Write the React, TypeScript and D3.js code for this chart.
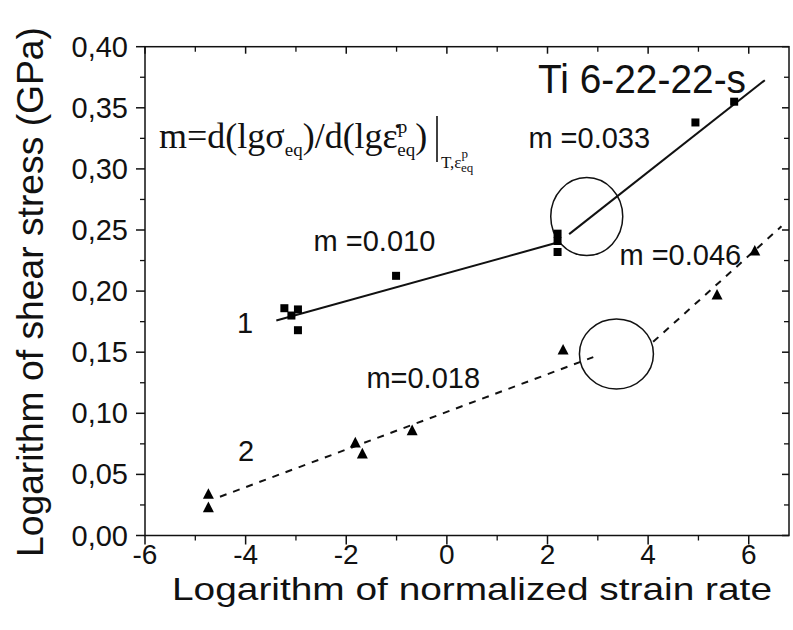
import React from "react";
import * as d3 from "d3";

// ---- data ----
const series1X = [-3.23, -2.96, -3.09, -2.96, -1.01, 2.2, 2.2, 2.2, 4.94, 5.71];
const series1Y = [0.186, 0.185, 0.18, 0.168, 0.2125, 0.247, 0.241, 0.232, 0.338, 0.355];
const series2X = [-4.74, -4.74, -1.82, -1.68, -0.69, 2.31, 5.37, 6.12];
const series2Y = [0.034, 0.023, 0.076, 0.067, 0.086, 0.152, 0.197, 0.233];

const fit1aX = [-3.39, 2.18];
const fit1aY = [0.176, 0.2395];
const fit1bX = [2.43, 6.32];
const fit1bY = [0.2466, 0.3726];
const fit2aX = [-4.51, 2.91];
const fit2aY = [0.0317, 0.146];
const fit2bX = [4.1, 6.65];
const fit2bY = [0.1585, 0.253];

const circleX = [2.78, 3.37];
const circleY = [0.261, 0.1485];

const xTicks = [-6, -4, -2, 0, 2, 4, 6];
const xMinor = [-5, -3, -1, 1, 3, 5];
const yTicks = [0, 0.05, 0.1, 0.15, 0.2, 0.25, 0.3, 0.35, 0.4];
const yTickLabels = ["0,00", "0,05", "0,10", "0,15", "0,20", "0,25", "0,30", "0,35", "0,40"];
const yMinor = [0.025, 0.075, 0.125, 0.175, 0.225, 0.275, 0.325, 0.375];

const slopeLabels = ["m =0.010", "m =0.033", "m=0.018", "m =0.046"];
const slopeLabelX = [-2.65, 1.62, -1.6, 3.43];
const slopeLabelY = [0.2325, 0.3175, 0.1205, 0.2215];

const W = 793;
const H = 630;

export default function App() {
  const x = d3.scaleLinear().domain([-6, 6.8]).range([145, 789]);
  const y = d3.scaleLinear().domain([0, 0.4]).range([535.5, 46.7]);
  const line = d3
    .line<[number, number]>()
    .x((d) => x(d[0]))
    .y((d) => y(d[1]));
  const seg = (xs: number[], ys: number[]) =>
    line(xs.map((v, i) => [v, ys[i]] as [number, number])) || "";

  const x0 = x.range()[0];
  const x1 = x.range()[1];
  const yb = y.range()[0];
  const yt = y.range()[1];
  const font = "'Liberation Sans', Arial, sans-serif";
  const serif = "'Liberation Serif', 'Times New Roman', serif";

  const tri = (cx: number, cy: number, s: number) => {
    const h = s * 0.87;
    return `M${cx},${cy - h / 2 - 1}L${cx + s / 2},${cy + h / 2}L${cx - s / 2},${cy + h / 2}Z`;
  };

  return (
    <svg
      width={W}
      height={H}
      style={{ position: "absolute", left: 0, top: 0, background: "#fff" }}
    >
      <rect x={0} y={0} width={W} height={H} fill="#fff" />
      {/* frame */}
      <rect
        x={x0}
        y={yt}
        width={x1 - x0}
        height={yb - yt}
        fill="none"
        stroke="#111"
        strokeWidth={1.5}
      />
      {/* bottom ticks (outward) and top ticks (inward) */}
      {xTicks.map((t) => (
        <g key={"xt" + t}>
          <line x1={x(t)} x2={x(t)} y1={yb} y2={yb + 9} stroke="#111" strokeWidth={1.5} />
          <line x1={x(t)} x2={x(t)} y1={yt} y2={yt + 7} stroke="#111" strokeWidth={1.5} />
          <text
            x={x(t)}
            y={564}
            textAnchor="middle"
            fontFamily={font}
            fontSize={28}
            fill="#111"
          >
            {t < 0 ? "-" + Math.abs(t) : String(t)}
          </text>
        </g>
      ))}
      {xMinor.map((t) => (
        <g key={"xm" + t}>
          <line x1={x(t)} x2={x(t)} y1={yb} y2={yb + 5} stroke="#111" strokeWidth={1.3} />
          <line x1={x(t)} x2={x(t)} y1={yt} y2={yt + 5} stroke="#111" strokeWidth={1.3} />
        </g>
      ))}
      {/* left ticks (outward), right ticks (inward) */}
      {yTicks.map((t, i) => (
        <g key={"yt" + t}>
          <line x1={x0 - 9} x2={x0} y1={y(t)} y2={y(t)} stroke="#111" strokeWidth={1.5} />
          <line x1={x1 - 7} x2={x1} y1={y(t)} y2={y(t)} stroke="#111" strokeWidth={1.5} />
          <text
            x={128}
            y={y(t) + 10}
            textAnchor="end"
            fontFamily={font}
            fontSize={29}
            fill="#111"
          >
            {yTickLabels[i]}
          </text>
        </g>
      ))}
      {yMinor.map((t) => (
        <g key={"ym" + t}>
          <line x1={x0 - 5} x2={x0} y1={y(t)} y2={y(t)} stroke="#111" strokeWidth={1.3} />
          <line x1={x1 - 5} x2={x1} y1={y(t)} y2={y(t)} stroke="#111" strokeWidth={1.3} />
        </g>
      ))}

      {/* axis titles */}
      <text
        x={472}
        y={600}
        textAnchor="middle"
        fontFamily={font}
        fontSize={32}
        fill="#111"
        textLength={600}
        lengthAdjust="spacingAndGlyphs"
      >
        Logarithm of normalized strain rate
      </text>
      <text
        transform="translate(43,292) rotate(-90)"
        textAnchor="middle"
        fontFamily={font}
        fontSize={36}
        fill="#111"
        textLength={530}
        lengthAdjust="spacingAndGlyphs"
      >
        Logarithm of shear stress (GPa)
      </text>

      {/* fit lines */}
      <path d={seg(fit1aX, fit1aY)} stroke="#111" strokeWidth={2} fill="none" />
      <path d={seg(fit1bX, fit1bY)} stroke="#111" strokeWidth={2} fill="none" />
      <path
        d={seg(fit2aX, fit2aY)}
        stroke="#111"
        strokeWidth={2}
        fill="none"
        strokeDasharray="7,7"
      />
      <path
        d={seg(fit2bX, fit2bY)}
        stroke="#111"
        strokeWidth={2}
        fill="none"
        strokeDasharray="7,7"
      />

      {/* circles */}
      <ellipse cx={x(circleX[0])} cy={y(circleY[0])} rx={36} ry={39} fill="none" stroke="#111" strokeWidth={1.5} />
      <ellipse cx={x(circleX[1])} cy={y(circleY[1])} rx={37} ry={35} fill="none" stroke="#111" strokeWidth={1.5} />

      {/* markers */}
      {series1X.map((v, i) => (
        <rect
          key={"s" + i}
          x={x(v) - 4}
          y={y(series1Y[i]) - 4}
          width={8}
          height={8}
          fill="#000"
        />
      ))}
      {series2X.map((v, i) => (
        <path key={"t" + i} d={tri(x(v), y(series2Y[i]), 11)} fill="#000" />
      ))}

      {/* annotations */}
      {slopeLabels.map((s, i) => (
        <text
          key={s}
          x={x(slopeLabelX[i])}
          y={y(slopeLabelY[i])}
          fontFamily={font}
          fontSize={29}
          fill="#111"
        >
          {s}
        </text>
      ))}
      <text x={237} y={333} fontFamily={font} fontSize={29} fill="#111">
        1
      </text>
      <text x={238} y={461} fontFamily={font} fontSize={29} fill="#111">
        2
      </text>
      <text
        x={538}
        y={93}
        fontFamily={font}
        fontSize={40}
        fill="#111"
        textLength={208}
        lengthAdjust="spacingAndGlyphs"
      >
        Ti 6-22-22-s
      </text>

      {/* formula */}
      <text x={159} y={148} fontFamily={serif} fontSize={36} fill="#111">
        <tspan>m=d(lgσ</tspan>
        <tspan fontSize={19} dy={8}>eq</tspan>
        <tspan dy={-8}>)/d(lgε̇</tspan>
        <tspan fontSize={19} dy={-15}>p</tspan>
        <tspan fontSize={19} dx={-10} dy={23}>eq</tspan>
        <tspan dy={-8}>)</tspan>
      </text>
      <line x1={437} x2={437} y1={116} y2={162} stroke="#111" strokeWidth={1.6} />
      <text x={441} y={168} fontFamily={serif} fontSize={17} fill="#111">
        <tspan>T,ε</tspan>
        <tspan fontSize={13} dy={-10}>p</tspan>
        <tspan fontSize={13} dx={-7} dy={14}>eq</tspan>
      </text>
    </svg>
  );
}
